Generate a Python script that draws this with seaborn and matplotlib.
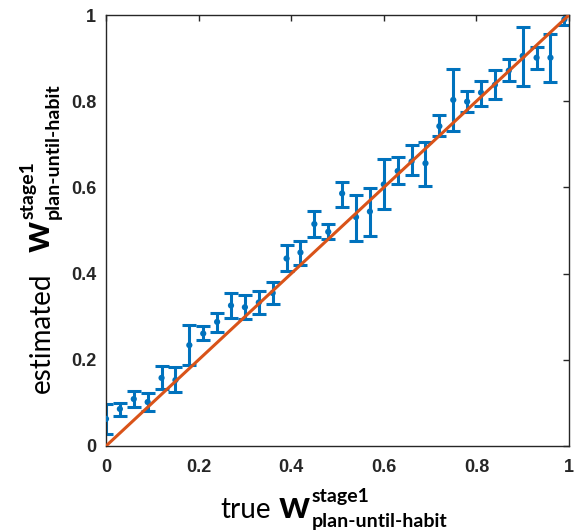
import matplotlib
matplotlib.use("Agg")
import matplotlib.pyplot as plt
from matplotlib.transforms import IdentityTransform
import pandas as pd
import seaborn as sns

# ---- data ----
true_w = [0.00, 0.03, 0.06, 0.09, 0.12, 0.15, 0.18, 0.21, 0.24, 0.27, 0.30, 0.33,
          0.36, 0.39, 0.42, 0.45, 0.48, 0.51, 0.54, 0.57, 0.60, 0.63, 0.66, 0.69,
          0.72, 0.75, 0.78, 0.81, 0.84, 0.87, 0.90, 0.93, 0.96, 0.99]
est_w = [0.063, 0.086, 0.109, 0.102, 0.158, 0.153, 0.234, 0.261, 0.288, 0.326, 0.322, 0.333,
         0.355, 0.435, 0.449, 0.515, 0.497, 0.586, 0.531, 0.544, 0.607, 0.638, 0.660, 0.656,
         0.742, 0.803, 0.799, 0.820, 0.838, 0.871, 0.905, 0.901, 0.901, 0.990]
est_lo = [0.028, 0.070, 0.090, 0.081, 0.132, 0.125, 0.188, 0.246, 0.265, 0.298, 0.294, 0.306,
          0.330, 0.406, 0.421, 0.486, 0.480, 0.554, 0.475, 0.488, 0.549, 0.607, 0.629, 0.603,
          0.719, 0.732, 0.774, 0.790, 0.804, 0.848, 0.835, 0.874, 0.844, 0.977]
est_hi = [0.097, 0.100, 0.128, 0.123, 0.186, 0.184, 0.280, 0.278, 0.309, 0.354, 0.350, 0.360,
          0.380, 0.466, 0.476, 0.545, 0.515, 0.612, 0.582, 0.598, 0.665, 0.671, 0.698, 0.706,
          0.769, 0.874, 0.824, 0.848, 0.872, 0.897, 0.971, 0.925, 0.956, 1.003]
diag = [0, 1]
ticks = [0, 0.2, 0.4, 0.6, 0.8, 1]
tick_labels = ["0", "0.2", "0.4", "0.6", "0.8", "1"]

df = pd.DataFrame({"true_w": true_w, "est_w": est_w, "lo": est_lo, "hi": est_hi})

BLUE = "#0072BD"
ORANGE = "#D95319"
AXC = "#262626"

sns.set_theme(style="white")
plt.rcParams["font.family"] = ["Liberation Sans", "DejaVu Sans"]

fig = plt.figure(figsize=(5.75, 5.3), dpi=100)
ax = fig.add_axes([106 / 575, 84 / 530, 463 / 575, 431 / 530])

# error bars + dots
ax.errorbar(df["true_w"], df["est_w"],
            yerr=[df["est_w"] - df["lo"], df["hi"] - df["est_w"]],
            fmt="none", ecolor=BLUE, elinewidth=2.2, capsize=4.8, capthick=2.2, zorder=2)
sns.scatterplot(data=df, x="true_w", y="est_w", color=BLUE, s=20, edgecolor="none",
                ax=ax, zorder=3, legend=False)
# identity line
sns.lineplot(x=diag, y=diag, color=ORANGE, linewidth=2.2, ax=ax, zorder=4)

ax.set_xlim(0, 1)
ax.set_ylim(0, 1)
ax.set_xticks(ticks)
ax.set_yticks(ticks)
ax.set_xticklabels(tick_labels, fontweight="bold", fontsize=13, color=AXC)
ax.set_yticklabels(tick_labels, fontweight="bold", fontsize=13, color=AXC)
ax.set_xlabel("")
ax.set_ylabel("")
ax.tick_params(direction="in", length=4, width=1, top=True, right=True,
               color=AXC)
ax.tick_params(axis="x", pad=9)
ax.tick_params(axis="y", pad=7)
for sp in ax.spines.values():
    sp.set_visible(True)
    sp.set_color(AXC)
    sp.set_linewidth(1)

# ---- axis labels: "true w^stage1_plan-until-habit", built piece by piece ----
fig.canvas.draw()
rend = fig.canvas.get_renderer()
lab_font = "Lato"


def label_pieces(x0, y0, word, vertical, gap):
    rot = 90 if vertical else 0
    kw = dict(transform=IdentityTransform(), family=lab_font, rotation=rot,
              rotation_mode="anchor", ha="left", va="baseline", color="black")

    def put(along, perp, s, size, weight):
        if vertical:
            x, y = x0 - perp, y0 + along
        else:
            x, y = x0 + along, y0 + perp
        t = fig.text(x, y, s, fontsize=size, fontweight=weight, **kw)
        bb = t.get_window_extent(rend)
        return (bb.y1 - y0) if vertical else (bb.x1 - x0)

    end = put(0, 0, word, 20, "normal")
    end = put(end + gap, 0, "w", 28, "bold")
    put(end + 2, 16, "stage1", 14, "bold")
    put(end + 2, -9, "plan-until-habit", 14, "bold")


label_pieces(220, 530 - 518, "true", vertical=False, gap=8)
label_pieces(50, 530 - 393, "estimated", vertical=True, gap=20)

fig.savefig("out.png", dpi=100)
